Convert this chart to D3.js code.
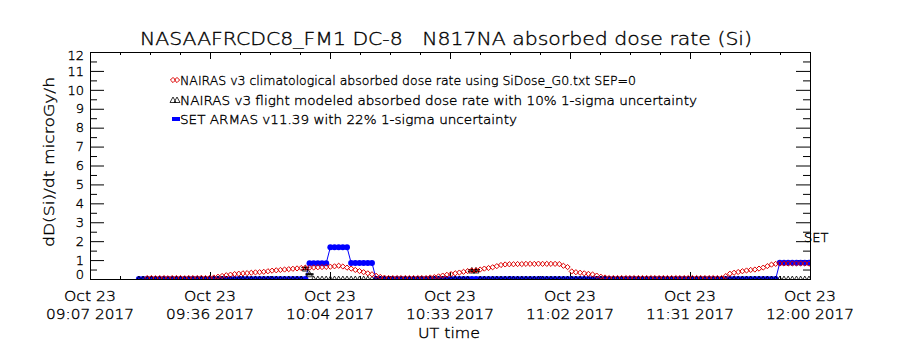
<!DOCTYPE html>
<html><head><meta charset="utf-8">
<script src="https://cdn.jsdelivr.net/npm/d3@7"></script>
<style>
body{margin:0;background:#fff}
svg{display:block}
text{font-family:"DejaVu Sans",sans-serif;font-weight:200;fill:#000;stroke:#000;stroke-width:0.35px}
</style>
</head><body>
<svg id="c" width="900" height="350"></svg>
<script>
// ---------- data ----------
const title = "NASAAFRCDC8_FM1 DC-8   N817NA absorbed dose rate (Si)";
const yLabel = "dD(Si)/dt microGy/h";
const xLabel = "UT time";
const xTickDates = ["Oct 23","Oct 23","Oct 23","Oct 23","Oct 23","Oct 23","Oct 23"];
const xTickTimes = ["09:07 2017","09:36 2017","10:04 2017","10:33 2017","11:02 2017","11:31 2017","12:00 2017"];
const yTickLabels = ["0","1","2","3","4","5","6","7","8","9","10","11","12"];
const legendLabels = [
  "NAIRAS v3 climatological absorbed dose rate using SiDose_G0.txt SEP=0",
  "NAIRAS v3 flight modeled absorbed dose rate with 10% 1-sigma uncertainty",
  "SET ARMAS v11.39 with 22% 1-sigma uncertainty"
];
const seriesTag = "SET";
const axisStart = "2017-10-23T09:07:15Z";
const axisEnd   = "2017-10-23T12:00:15Z";
const stepMinutes = 1;

// NAIRAS climatological (red diamonds), one sample per minute from 09:21
const redStart = "2017-10-23T09:21:00Z";
const redValues = [
  0.05,0.05,0.04,0.05,0.05,0.04,0.05,0.05,0.05,0.04,0.05,0.05,0.05,0.06,0.05,0.06,
  0.08,0.12,0.16,0.2,0.23,0.26,0.28,0.3,0.31,0.33,0.35,0.36,0.38,0.41,0.44,0.46,
  0.48,0.5,0.52,0.54,0.56,0.58,0.6,0.6,0.61,0.62,0.63,0.64,0.65,0.67,0.7,0.66,
  0.6,0.55,0.48,0.42,0.36,0.3,0.25,0.17,0.11,0.07,
  0.05,0.05,0.05,0.05,0.05,0.05,0.05,0.05,0.05,0.05,
  0.08,0.1,0.14,0.18,0.22,0.26,0.3,0.34,0.38,0.42,0.45,0.46,0.5,0.55,0.58,0.62,
  0.68,0.74,0.77,0.78,0.78,0.79,0.79,0.8,0.8,0.8,0.81,0.8,0.8,0.8,0.8,0.79,0.7,
  0.63,0.4,0.36,0.33,0.3,0.27,0.24,0.18,0.12,0.08,
  0.05,0.05,0.05,0.05,0.05,0.05,0.05,0.05,0.05,0.05,0.05,0.05,0.05,0.05,
  0.05,0.05,0.05,0.05,0.05,0.05,0.05,0.05,0.05,0.05,0.05,0.05,0.05,0.05,
  0.15,0.28,0.33,0.37,0.41,0.45,0.48,0.5,0.55,0.6,0.68,0.76,0.8,
  0.82,0.82,0.82,0.82,0.82,0.82,0.82,0.81
];

// SET ARMAS (blue), one sample per minute from 09:19
const blueStart = "2017-10-23T09:19:00Z";
const blueValues = [
  0,0,0,0,0,0,0,0,0,0, 0,0,0,0,0,0,0,0,0,0, 0,0,0,0,0,0,0,0,0,0, 0,0,0,0,0,0,0,0,0,0, 0,
  0.83,0.83,0.83,0.83,0.83,
  1.68,1.68,1.68,1.68,1.68,
  0.85,0.85,0.85,0.85,0.85,0.85,
  0,0,0,0,0,0,0,0,0,0, 0,0,0,0,0,0,0,0,0,0, 0,0,0,0,0,0,0,0,0,0,
  0,0,0,0,0,0,0,0,0,0, 0,0,0,0,0,0,0,0,0,0, 0,0,0,0,0,0,0,0,0,0,
  0,0,0,0,0,0,0,0,0,0, 0,0,0,0,0,0,0,0,0,0, 0,0,0,0,0,0,0,0,0,0,
  0,0,0,0,0,0,0,
  0.86,0.86,0.86,0.86,0.86,0.86,0.86,0.86
];

// NAIRAS flight modeled (black triangles), one sample per minute from 09:19
const blackStart = "2017-10-23T09:19:00Z";
const blackValues = [
  0,0,0,0,0,0,0,0,0,0, 0,0,0,0,0,0,0,0,0,0, 0,0,0,0,0,0,0,0,0,0, 0,0,0,0,0,0,0,0,0,0,
  0.55,0.25,
  0,0,0,0,0,0,0,0,0,0, 0,0,0,0,0,0,0,0,0,0, 0,0,0,0,0,0,0,0,0,0, 0,0,0,0,0,0,0,0,
  0.45,0.45,
  0,0,0,0,0,0,0,0,0,0, 0,0,0,0,0,0,0,0,0,0, 0,0,0,0,0,0,0,0,0,0, 0,0,0,0,0,0,0,0,0,0,
  0,0,0,0,0,0,0,0,0,0, 0,0,0,0,0,0,0,0,0,0, 0,0,0,0,0,0,0,0,0,0, 0,0,0,0,0,0,0,0,0,0
];
const blackUncertainty = 0.10;

// ---------- drawing ----------
const svg = d3.select("#c");
const L = 90, R = 810, T = 52, B = 279;
const t0 = new Date(axisStart), t1 = new Date(axisEnd);
const x = d3.scaleUtc().domain([t0, t1]).range([L, R]);
const y = d3.scaleLinear().domain([0, 12]).range([B, T]);
const RED = "#dd0000", BLUE = "#0000ff";

const toSeries = (start, vals) => {
  const s = new Date(start).getTime();
  return vals.map((v, i) => ({t: new Date(s + i * stepMinutes * 60000), v}));
};
const red = toSeries(redStart, redValues);
const blue = toSeries(blueStart, blueValues);
const black = toSeries(blackStart, blackValues);

svg.append("defs").append("clipPath").attr("id", "clip")
  .append("rect").attr("x", L).attr("y", T).attr("width", R - L).attr("height", B - T);

// title
svg.append("text").attr("x", 140).attr("y", 45).attr("font-size", 18)
  .style("white-space", "pre").attr("textLength", 612).attr("lengthAdjust", "spacingAndGlyphs")
  .text(title);

// axes ticks
const majorX = d3.range(7).map(i => new Date(+t0 + i * (t1 - t0) / 6));
const minorX = d3.range(25).map(i => new Date(+t0 + i * (t1 - t0) / 24));
function styleAxis(g) {
  g.select(".domain").remove();
  g.selectAll("line").attr("stroke", "#000").attr("stroke-width", 1);
}
svg.append("g").attr("transform", `translate(0,${B})`)
  .call(d3.axisBottom(x).tickValues(minorX).tickSize(-3).tickFormat("")).call(styleAxis);
svg.append("g").attr("transform", `translate(0,${B})`)
  .call(d3.axisBottom(x).tickValues(majorX).tickSize(-7).tickFormat("")).call(styleAxis);
svg.append("g").attr("transform", `translate(0,${T})`)
  .call(d3.axisTop(x).tickValues(minorX).tickSize(-3).tickFormat("")).call(styleAxis);
svg.append("g").attr("transform", `translate(0,${T})`)
  .call(d3.axisTop(x).tickValues(majorX).tickSize(-7).tickFormat("")).call(styleAxis);

const yMajor = d3.range(0, 13);
const yMinor = d3.range(0.5, 12, 1);
const yl = svg.append("g").attr("transform", `translate(${L},0)`)
  .call(d3.axisLeft(y).tickValues(yMajor).tickSize(-14).tickPadding(6)
        .tickFormat((d, i) => yTickLabels[i])).call(styleAxis);
yl.selectAll("text").attr("font-size", 13).attr("fill", "#000")
  .style("font-family", '"DejaVu Sans",sans-serif').style("font-weight", 200)
  .attr("dy", (d) => d === 0 ? "-0.05em" : d === 12 ? "0.6em" : "0.32em");
svg.append("g").attr("transform", `translate(${L},0)`)
  .call(d3.axisLeft(y).tickValues(yMinor).tickSize(-7).tickFormat("")).call(styleAxis);
svg.append("g").attr("transform", `translate(${R},0)`)
  .call(d3.axisRight(y).tickValues(yMajor).tickSize(-14).tickFormat("")).call(styleAxis);
svg.append("g").attr("transform", `translate(${R},0)`)
  .call(d3.axisRight(y).tickValues(yMinor).tickSize(-7).tickFormat("")).call(styleAxis);

// x tick labels
const xl = svg.append("g");
majorX.forEach((d, i) => {
  xl.append("text").attr("x", x(d)).attr("y", 301).attr("text-anchor", "middle")
    .attr("font-size", 14).attr("textLength", 52).attr("lengthAdjust", "spacingAndGlyphs")
    .style("white-space", "pre").text(xTickDates[i]);
  xl.append("text").attr("x", x(d)).attr("y", 319).attr("text-anchor", "middle")
    .attr("font-size", 14).attr("textLength", 88).attr("lengthAdjust", "spacingAndGlyphs")
    .style("white-space", "pre").text(xTickTimes[i]);
});
svg.append("text").attr("x", 449).attr("y", 338).attr("text-anchor", "middle")
  .attr("font-size", 14).attr("textLength", 62).attr("lengthAdjust", "spacingAndGlyphs").text(xLabel);
svg.append("text").attr("transform", "translate(54,162) rotate(-90)").attr("text-anchor", "middle")
  .attr("font-size", 14).attr("textLength", 170).attr("lengthAdjust", "spacingAndGlyphs").text(yLabel);

// plot box
svg.append("rect").attr("x", L + 0.5).attr("y", T + 0.5).attr("width", R - L).attr("height", B - T)
  .attr("fill", "none").attr("stroke", "#000").attr("stroke-width", 1);

// data
const plot = svg.append("g").attr("clip-path", "url(#clip)");
const diamond = "M0,-2.6L2.6,0L0,2.6L-2.6,0Z";
const triangle = "M0,-3L3,2.5L-3,2.5Z";

// blue: line + filled markers
plot.append("path").datum(blue)
  .attr("d", d3.line().x(d => x(d.t)).y(d => y(d.v)))
  .attr("fill", "none").attr("stroke", BLUE).attr("stroke-width", 1);
plot.append("g").selectAll("circle").data(blue).join("circle")
  .attr("cx", d => x(d.t)).attr("cy", d => y(d.v)).attr("r", 3).attr("fill", BLUE);

// black: triangles + error bars
const bk = plot.append("g");
bk.selectAll("path").data(black).join("path")
  .attr("transform", d => `translate(${x(d.t)},${y(d.v)})`)
  .attr("d", triangle).attr("fill", "none").attr("stroke", "#000").attr("stroke-width", 0.8);
const errs = black.filter(d => d.v > 0);
errs.forEach(d => {
  const cx = x(d.t), hi = y(d.v * (1 + blackUncertainty)), lo = y(d.v * (1 - blackUncertainty));
  bk.append("line").attr("x1", cx).attr("x2", cx).attr("y1", hi).attr("y2", lo).attr("stroke", "#000");
  [hi, lo].forEach(yy => bk.append("line").attr("x1", cx - 4).attr("x2", cx + 4)
    .attr("y1", yy).attr("y2", yy).attr("stroke", "#000").attr("stroke-width", 1.2));
});

// red diamonds
plot.append("g").selectAll("path").data(red).join("path")
  .attr("transform", d => `translate(${x(d.t)},${y(d.v)})`)
  .attr("d", diamond).attr("fill", "none").attr("stroke", RED).attr("stroke-width", 1);

// series tag at right
svg.append("text").attr("x", 804).attr("y", 242).attr("font-size", 13).text(seriesTag);

// legend
const lg = svg.append("g");
const rows = [80, 100, 119];
const lens = [456, 517, 337];
[173, 177].forEach(cx => {
  lg.append("path").attr("transform", `translate(${cx},${rows[0]})`).attr("d", diamond)
    .attr("fill", "none").attr("stroke", RED);
  lg.append("path").attr("transform", `translate(${cx},${rows[1]})`).attr("d", triangle)
    .attr("fill", "none").attr("stroke", "#000").attr("stroke-width", 0.8);
});
lg.append("rect").attr("x", 172).attr("y", rows[2] - 2).attr("width", 8).attr("height", 4).attr("fill", BLUE);
legendLabels.forEach((s, i) => {
  lg.append("text").attr("x", 180).attr("y", rows[i] + 4.5).attr("font-size", 13)
    .attr("textLength", lens[i]).attr("lengthAdjust", "spacingAndGlyphs").text(s);
});
</script>
</body></html>
